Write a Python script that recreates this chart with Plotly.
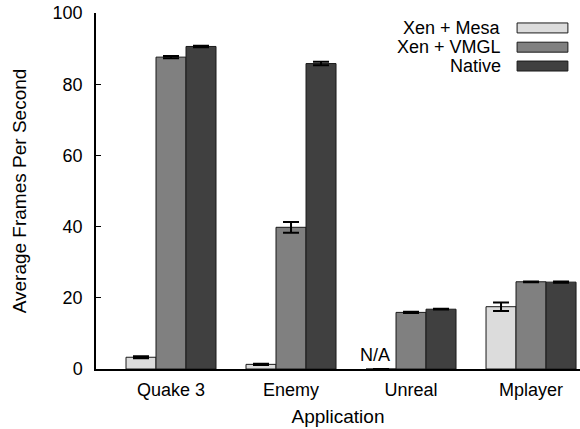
import plotly.graph_objects as go

categories = ["Quake 3", "Enemy", "Unreal", "Mplayer"]
series_names = ["Xen + Mesa", "Xen + VMGL", "Native"]
mesa = [3.3, 1.3, 0.0, 17.5]
mesa_err = [0.3, 0.2, 0.0, 1.2]
vmgl = [87.6, 39.8, 15.9, 24.5]
vmgl_err = [0.3, 1.5, 0.2, 0.1]
native = [90.6, 85.8, 16.8, 24.4]
native_err = [0.2, 0.5, 0.1, 0.2]
y_ticks = [0, 20, 40, 60, 80, 100]

colors = ["#dcdcdc", "#808080", "#404040"]
values = [mesa, vmgl, native]
errors = [mesa_err, vmgl_err, native_err]

FONT = "Liberation Sans, Arial, Helvetica, sans-serif"
FS = 18

fig = go.Figure()
for name, vals, errs, col in zip(series_names, values, errors, colors):
    fig.add_trace(go.Bar(
        x=categories, y=vals, name=name,
        marker=dict(color=col, line=dict(color="#1a1a1a", width=1)),
        error_y=dict(type="data", array=errs, visible=True,
                     color="black", thickness=2, width=8),
        showlegend=False,
    ))

# N/A label for Unreal / Xen + Mesa
fig.add_annotation(x=2, y=0, xref="x", yref="y", text="N/A", showarrow=False,
                   xshift=-36, yshift=14, font=dict(size=FS, color="black", family=FONT))

# manual legend (text right-aligned, swatch to the right)
leg_y = [0.958, 0.904, 0.851]
for name, col, yy in zip(series_names, colors, leg_y):
    fig.add_annotation(x=0.841, y=yy, xref="paper", yref="paper", text=name,
                       showarrow=False, xanchor="right", yanchor="middle",
                       font=dict(size=FS, color="black", family=FONT))
    fig.add_shape(type="rect", xref="paper", yref="paper",
                  x0=0.870, x1=0.975, y0=yy - 0.014, y1=yy + 0.014,
                  fillcolor=col, line=dict(color="#1a1a1a", width=1))

fig.update_layout(
    width=580, height=429,
    margin=dict(l=96, r=0, t=13, b=60),
    paper_bgcolor="white", plot_bgcolor="white",
    barmode="group", bargap=0.25, bargroupgap=0,
    font=dict(family=FONT, size=FS, color="black"),
    showlegend=False,
)
fig.update_xaxes(
    range=[-0.625, 3.408], showline=True, linecolor="black", linewidth=1.5,
    ticks="", showgrid=False, zeroline=False, ticklabelstandoff=4,
    title=dict(text="Application", standoff=10, font=dict(size=19)),
    tickfont=dict(size=FS),
)
fig.update_yaxes(
    range=[0, 100], tickvals=y_ticks, showline=True, linecolor="black", linewidth=1.5,
    ticks="inside", ticklen=5, tickcolor="black", showgrid=False, zeroline=False,
    ticklabelstandoff=8,
    title=dict(text="Average Frames Per Second", standoff=21, font=dict(size=19)),
    tickfont=dict(size=FS),
)

fig.write_html("out.html", config={"displayModeBar": False},
               post_script="document.body.style.margin='0px';")
